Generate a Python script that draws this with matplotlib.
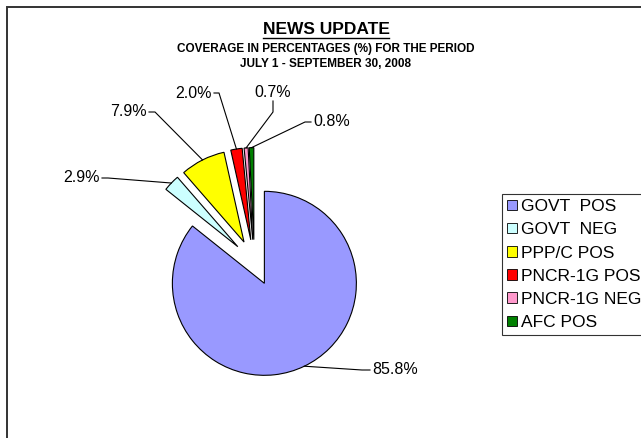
import numpy as np
import matplotlib
matplotlib.use("Agg")
import matplotlib.pyplot as plt
from matplotlib.patches import Rectangle, Patch
from matplotlib.lines import Line2D

# Coverage shares, %
categories = ["GOVT  POS", "GOVT  NEG", "PPP/C POS", "PNCR-1G POS", "PNCR-1G NEG", "AFC POS"]
values = [85.8, 2.9, 7.9, 2.0, 0.7, 0.8]
value_labels = ["85.8%", "2.9%", "7.9%", "2.0%", "0.7%", "0.8%"]
colors = ["#9999FF", "#CCFFFF", "#FFFF00", "#FF0000", "#FF99CC", "#008000"]

W, H = 641, 438
FONT = ["Liberation Sans", "DejaVu Sans"]
plt.rcParams["font.family"] = FONT

fig = plt.figure(figsize=(W / 100, H / 100), dpi=100)
ax = fig.add_axes([0, 0, 1, 1])
ax.set_xlim(0, W)
ax.set_ylim(0, H)
ax.set_aspect("equal")
ax.axis("off")


def Y(y_img):
    return H - y_img


# chart frame
ax.add_patch(Rectangle((7, Y(700)), 800, 693, fill=False, edgecolor="#333333", lw=1.4))

# exploded pie, clockwise from 12 o'clock; every slice pulled out by a quarter radius
radius = 92
center = (254.4, Y(262.6))
wedges, _ = ax.pie(values, colors=colors, startangle=90, counterclock=False,
                   explode=[0.25 * radius] * len(values), radius=radius, center=center,
                   wedgeprops=dict(edgecolor="black", linewidth=0.8))
ax.set_xlim(0, W)
ax.set_ylim(0, H)

# label layout: text anchor, alignment, elbow point
label_layout = [
    dict(xy=(372, 370), ha="left", va="center", elbow=[(362, 370), (370, 370)]),
    dict(xy=(100, 178), ha="right", va="center", elbow=[(108, 178), (102, 178)]),
    dict(xy=(147, 112), ha="right", va="center", elbow=[(155, 112), (149, 112)]),
    dict(xy=(212, 93), ha="right", va="center", elbow=[(219, 93), (214, 93)]),
    dict(xy=(273, 100), ha="center", va="bottom", elbow=[(273, 112), (273, 101)]),
    dict(xy=(313, 122), ha="left", va="center", elbow=[(305, 122), (311, 122)]),
]

for w, txt, lay in zip(wedges, value_labels, label_layout):
    mid = np.deg2rad((w.theta1 + w.theta2) / 2)
    cx, cy = w.center
    px, py = cx + w.r * np.cos(mid), cy + w.r * np.sin(mid)
    xs = [px] + [e[0] for e in lay["elbow"]]
    ys = [py] + [Y(e[1]) for e in lay["elbow"]]
    ax.add_line(Line2D(xs, ys, color="black", lw=0.8))
    ax.text(lay["xy"][0], Y(lay["xy"][1]), txt, ha=lay["ha"], va=lay["va"],
            fontsize=11.5, color="black")

# titles
ax.text(326, Y(29), "NEWS UPDATE", ha="center", va="center", fontsize=12.5,
        fontweight="bold")
ax.plot([263, 389], [Y(37.5), Y(37.5)], color="black", lw=1.0)
ax.text(326, Y(49), "COVERAGE IN PERCENTAGES (%) FOR THE PERIOD", ha="center",
        va="center", fontsize=8.5, fontweight="bold")
ax.text(326, Y(64), "JULY 1 - SEPTEMBER 30, 2008", ha="center", va="center",
        fontsize=8.5, fontweight="bold")

# legend
handles = [Patch(facecolor=c, edgecolor="black", linewidth=0.6) for c in colors]
leg = ax.legend(handles, categories, loc="upper left",
                bbox_to_anchor=(502 / W, 1 - 194 / H), bbox_transform=fig.transFigure,
                frameon=True, fancybox=False, fontsize=12.5, handlelength=0.55,
                handleheight=0.55, handletextpad=0.25, labelspacing=0.47,
                borderpad=0.3, borderaxespad=0)
leg.get_frame().set_edgecolor("black")
leg.get_frame().set_linewidth(0.8)

fig.savefig("out.png", dpi=100)
